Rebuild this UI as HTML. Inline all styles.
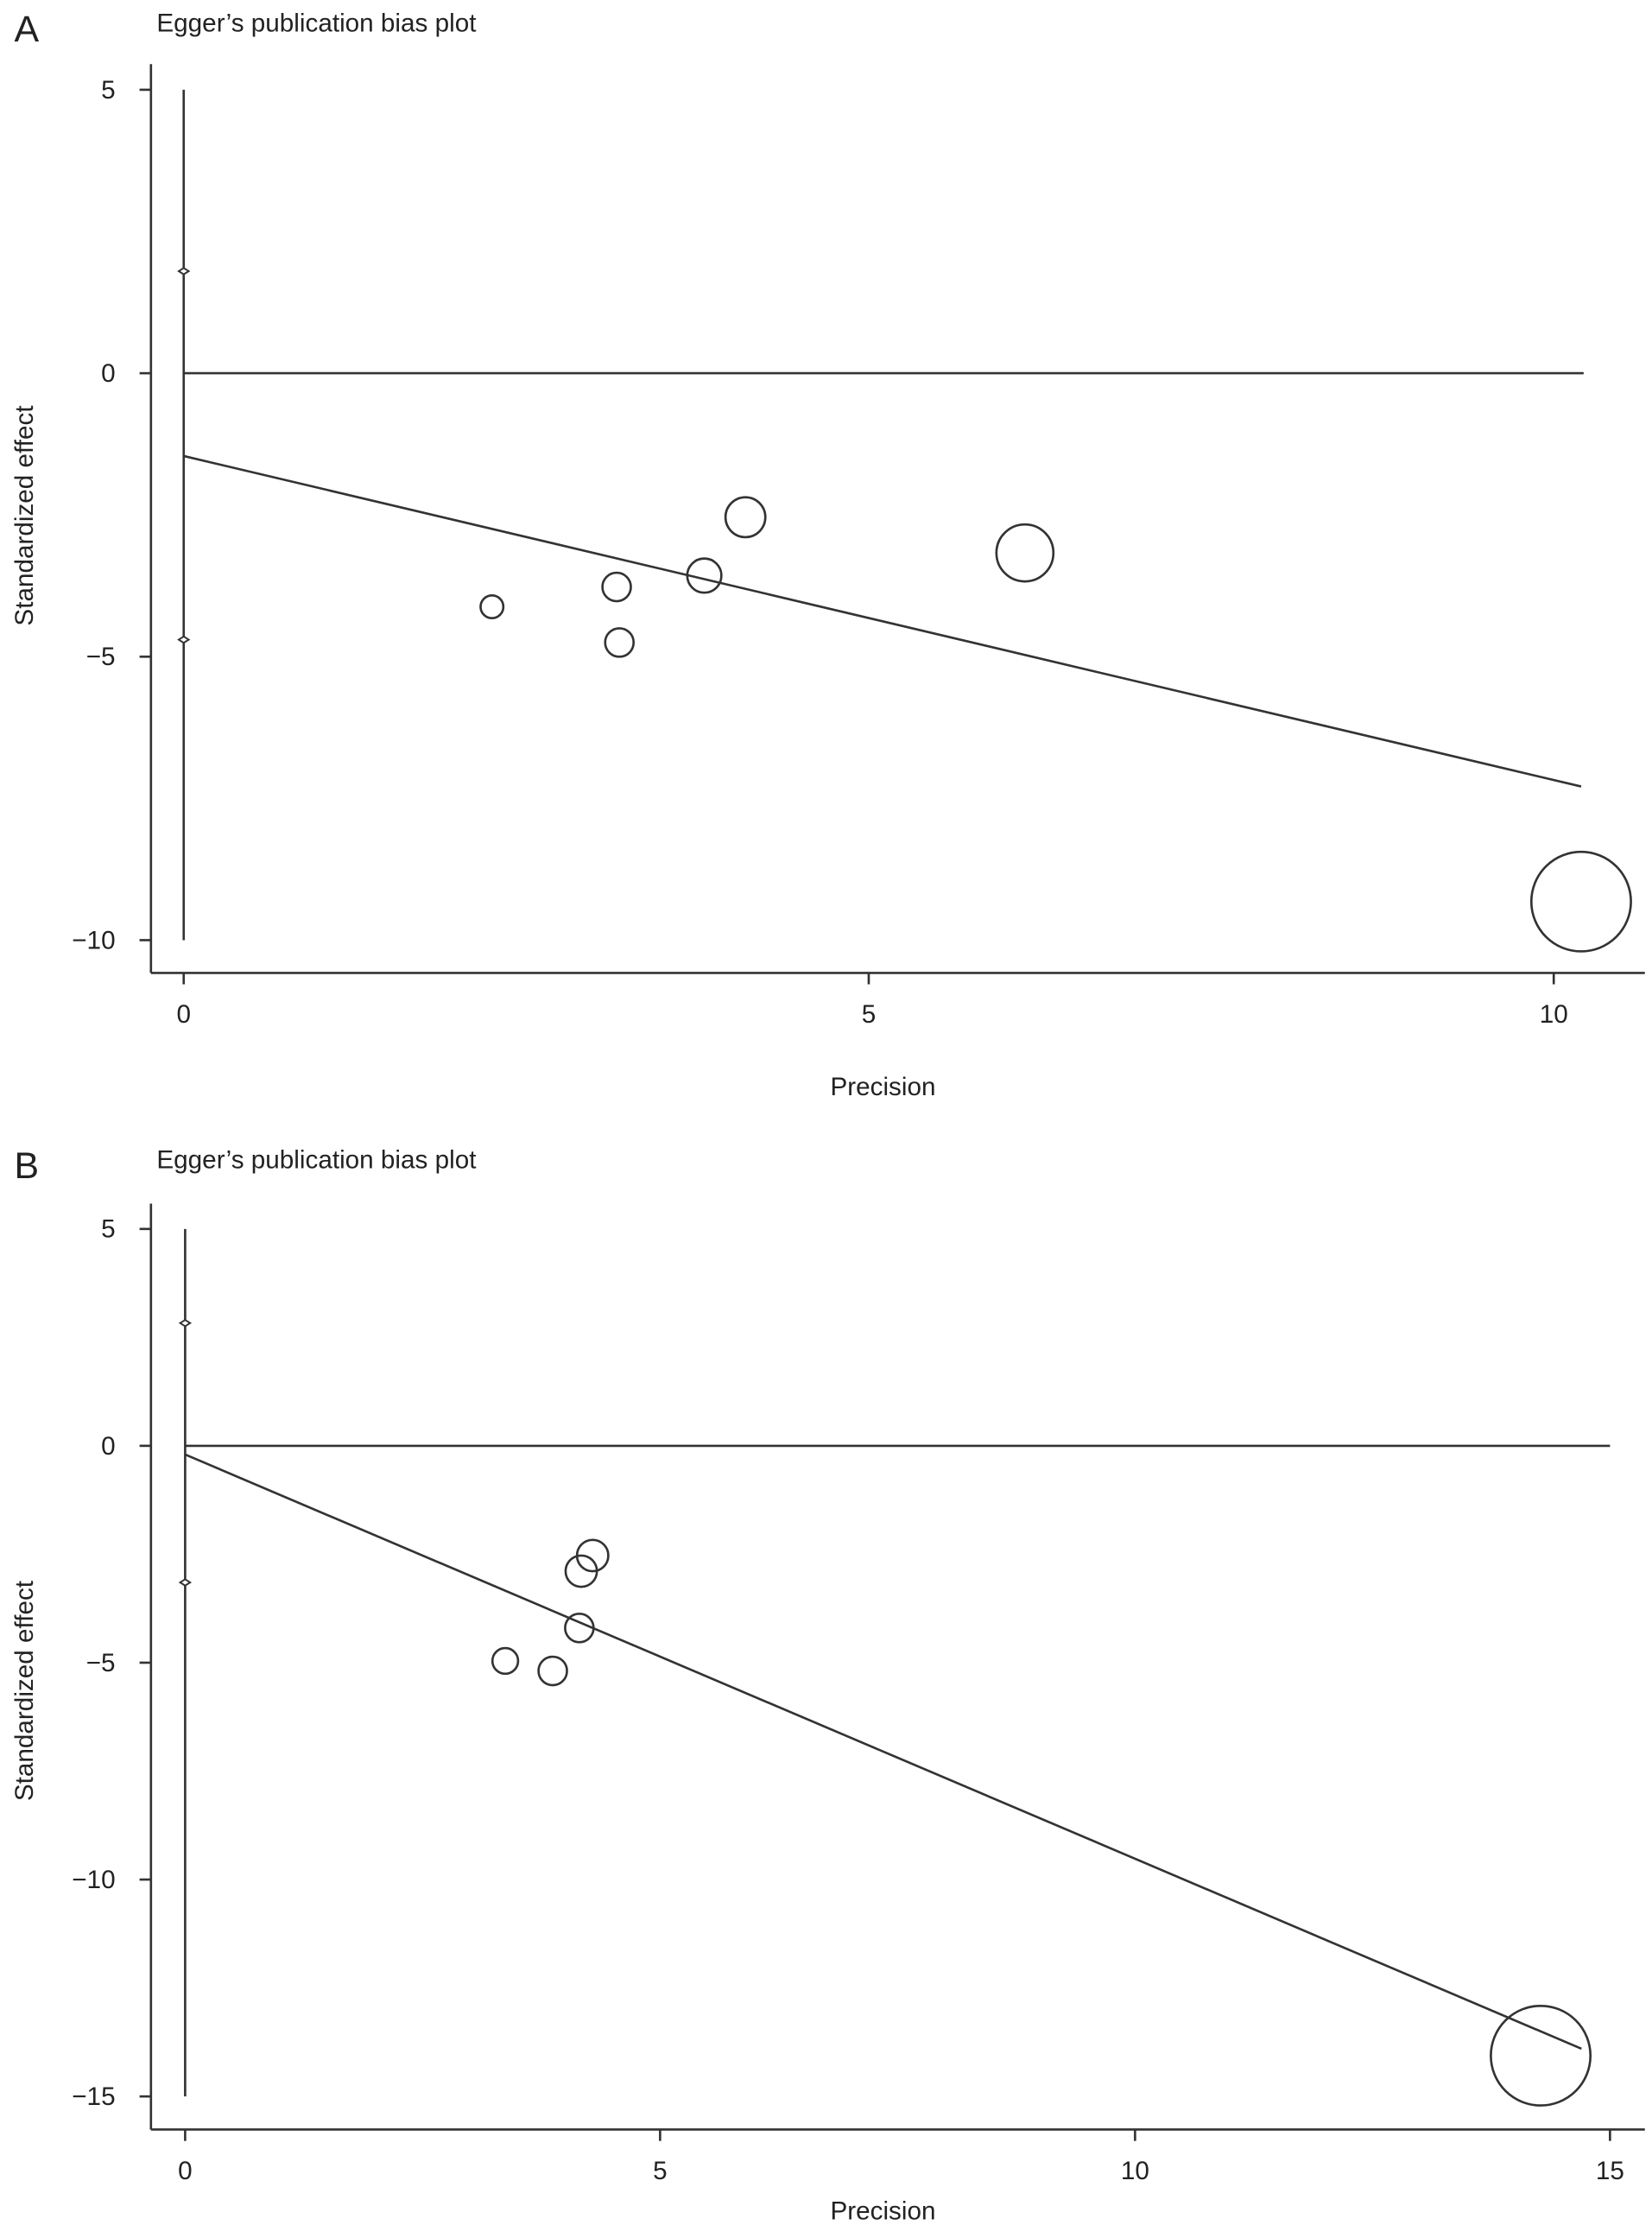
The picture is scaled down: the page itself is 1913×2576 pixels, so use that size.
<!DOCTYPE html>
<html><head><meta charset="utf-8"><style>
html,body{margin:0;padding:0;background:#fff;}
svg{display:block;}
text{font-family:"Liberation Sans",sans-serif;fill:#222;}
</style></head><body>
<svg id="fig" width="1913" height="2576" viewBox="0 0 1160 1562" xmlns="http://www.w3.org/2000/svg"></svg>
<script>
// Panel A data
const aPrecision = [2.25, 3.16, 3.18, 3.80, 4.10, 6.14, 10.2];
const aEffect = [-4.12, -3.77, -4.75, -3.57, -2.54, -3.17, -9.32];
const aWeight = [1, 1.56, 1.56, 2.25, 3.06, 6.25, 19.1];
const aXTicks = [0, 5, 10];
const aYTicks = [5, 0, -5, -10];
const aCI = [1.8, -4.7];
const aReg = [-1.46, -7.29];
const aRegEnd = 10.2;
// Panel B data
const bPrecision = [3.37, 3.87, 4.15, 4.17, 4.29, 14.27];
const bEffect = [-4.96, -5.19, -4.20, -2.89, -2.53, -14.06];
const bWeight = [1.27, 1.56, 1.56, 1.89, 1.89, 19.1];
const bXTicks = [0, 5, 10, 15];
const bYTicks = [5, 0, -5, -10, -15];
const bCI = [2.83, -3.15];
const bReg = [-0.2, -13.9];
const bRegEnd = 14.7;

const NS = "http://www.w3.org/2000/svg";
const svg = document.getElementById('fig');
function mk(tag, attrs, parent, txt){
  const e = document.createElementNS(NS, tag);
  for (const k in attrs) e.setAttribute(k, attrs[k]);
  if (txt !== undefined) e.textContent = txt;
  (parent || svg).appendChild(e);
  return e;
}
const S = {stroke:'#333', 'stroke-width':1.6, fill:'none'};

function panel(cfg){
  const g = mk('g', {});
  
  
  const X = v => cfg.x0 + (v - 0) * cfg.xs;
  const Y = v => cfg.y0 - v * cfg.ys;
  let t;
  t = mk('text', {x:cfg.letterX, y:cfg.letterY, 'font-size':26}, g, cfg.letter);
  
  
  t = mk('text', {x:110, y:cfg.titleY, 'font-size':18}, g, "Egger\u2019s publication bias plot");
  
  
  let l = mk('line', Object.assign({x1:106, y1:cfg.axTop, x2:106, y2:cfg.axBot}, S), g);
  
  
  l = mk('line', Object.assign({x1:106, y1:cfg.axBot, x2:1155, y2:cfg.axBot}, S), g);
  
  
  cfg.yTicks.forEach(v => {
    const tk = mk('line', Object.assign({x1:98, y1:Y(v), x2:106, y2:Y(v)}, S), g);
    
    
    const tl = mk('text', {x:81, y:Y(v)+6, 'font-size':18, 'text-anchor':'end'}, g, v < 0 ? '\u2212' + (-v) : String(v));
    
    
  });
  cfg.xTicks.forEach(v => {
    const tk = mk('line', Object.assign({x1:X(v), y1:cfg.axBot, x2:X(v), y2:cfg.axBot+8}, S), g);
    
    
    const tl = mk('text', {x:X(v), y:cfg.axBot+35, 'font-size':18, 'text-anchor':'middle'}, g, String(v));
    
    
  });
  t = mk('text', {x:620, y:cfg.xLabY, 'font-size':18, 'text-anchor':'middle'}, g, 'Precision');
  
  
  t = mk('text', {x:0, y:0, 'font-size':18, 'text-anchor':'middle', transform:`translate(23,${cfg.yLabC}) rotate(-90)`}, g, 'Standardized effect');
  
  
  l = mk('line', Object.assign({x1:X(0), y1:Y(cfg.yTicks[0]), x2:X(0), y2:Y(cfg.yTicks[cfg.yTicks.length-1])}, S), g);
  
  
  cfg.ci.forEach(v => {
    const d = mk('path', {d:`M${X(0)-3.5},${Y(v)} L${X(0)},${Y(v)-2.2} L${X(0)+3.5},${Y(v)} L${X(0)},${Y(v)+2.2} Z`, stroke:'#333', 'stroke-width':1.2, fill:'#fff'}, g);
    
    
  });
  l = mk('line', Object.assign({x1:X(0), y1:Y(0), x2:X(cfg.xTicks[cfg.xTicks.length-1]) + cfg.zeroExt, y2:Y(0)}, S), g);
  
  
  l = mk('line', Object.assign({x1:X(0), y1:Y(cfg.reg[0]), x2:X(cfg.regEnd), y2:Y(cfg.reg[1])}, S), g);
  
  
  cfg.px.forEach((p, i) => {
    const c = mk('circle', Object.assign({cx:X(p), cy:Y(cfg.py[i]), r:8*Math.sqrt(cfg.w[i])}, S), g);
    
    
  });
}
panel({id:'panel-a', letter:'A', letterX:10, letterY:29, titleY:22,
  x0:129, xs:96.2, y0:262, ys:39.8, axTop:45, axBot:683,
  xTicks:aXTicks, yTicks:aYTicks, ci:aCI, reg:aReg, regEnd:aRegEnd, zeroExt:21,
  px:aPrecision, py:aEffect, w:aWeight, xLabY:769, yLabC:362});
panel({id:'panel-b', letter:'B', letterX:10, letterY:827, titleY:820,
  x0:130, xs:66.7, y0:1015, ys:30.45, axTop:845, axBot:1495,
  xTicks:bXTicks, yTicks:bYTicks, ci:bCI, reg:bReg, regEnd:bRegEnd, zeroExt:0,
  px:bPrecision, py:bEffect, w:bWeight, xLabY:1558, yLabC:1187});
</script>
</body></html>
